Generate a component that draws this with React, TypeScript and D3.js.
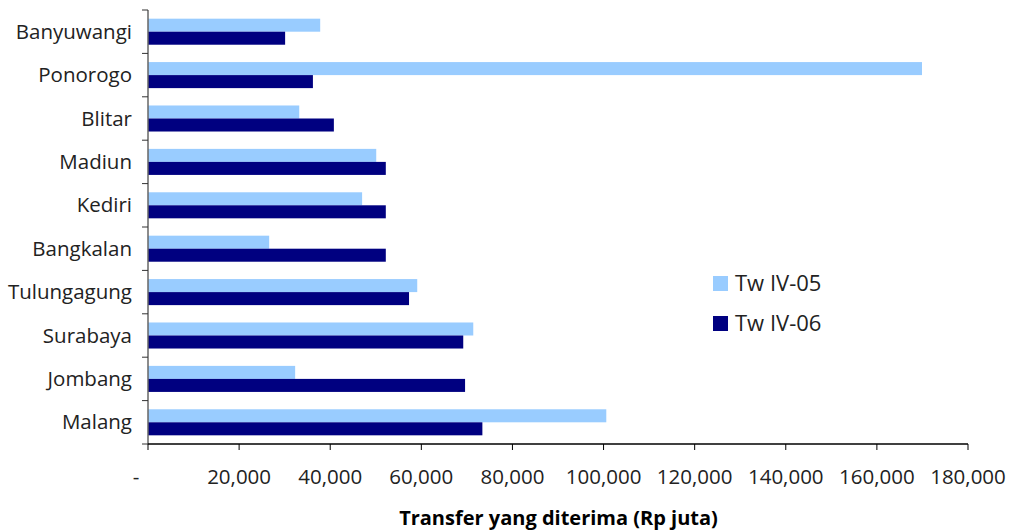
import React from "react";
import * as d3 from "d3";

const categories = ["Banyuwangi", "Ponorogo", "Blitar", "Madiun", "Kediri", "Bangkalan", "Tulungagung", "Surabaya", "Jombang", "Malang"];
const seriesNames = ["Tw IV-05", "Tw IV-06"];
const twIV05 = [37800, 169900, 33200, 50100, 47000, 26600, 59100, 71400, 32300, 100600];
const twIV06 = [30100, 36200, 40800, 52200, 52200, 52200, 57300, 69200, 69600, 73400];
const xTicks = [0, 20000, 40000, 60000, 80000, 100000, 120000, 140000, 160000, 180000];
const colors = ["#99CCFF", "#000080"];
const xTitle = "Transfer yang diterima (Rp juta)";

const W = 1016, H = 531;
const left = 148, right = 968, top = 10, bottom = 444;
const font = "'Open Sans', 'DejaVu Sans', sans-serif";

export default function App() {
  const x = d3.scaleLinear().domain([0, 180000]).range([left, right]);
  const y = d3.scaleBand<string>().domain(categories).range([top, bottom]).paddingInner(0.4).paddingOuter(0.2);
  const sub = d3.scaleBand<string>().domain(seriesNames).range([0, y.bandwidth()]);
  const step = y.step();
  const values = [twIV05, twIV06];
  const fmt = (v: number) => (v === 0 ? "-" : d3.format(",")(v));
  return (
    <svg width={W} height={H} style={{ position: "absolute", left: 0, top: 0, background: "#fff" }}>
      {values.map((vals, si) =>
        categories.map((c, i) => (
          <rect key={`${si}-${c}`} x={x(0)} y={(y(c) as number) + (sub(seriesNames[si]) as number)}
            width={x(vals[i]) - x(0)} height={sub.bandwidth()} fill={colors[si]} />
        ))
      )}
      {/* y axis */}
      <line x1={left} x2={left} y1={top} y2={bottom} stroke="#666" strokeWidth={1.5} />
      {d3.range(categories.length + 1).map((k) => (
        <line key={k} x1={left - 6} x2={left} y1={top + k * step} y2={top + k * step} stroke="#333" />
      ))}
      {categories.map((c) => (
        <text key={c} x={left - 16} y={(y(c) as number) + y.bandwidth() / 2} dy="0.35em" textAnchor="end"
          fontFamily={font} fontSize={20.5} fill="#222">{c}</text>
      ))}
      {/* x axis */}
      <line x1={left} x2={right} y1={bottom} y2={bottom} stroke="#000" strokeWidth={1.5} />
      {xTicks.map((t) => (
        <line key={t} x1={x(t)} x2={x(t)} y1={bottom} y2={bottom + 6} stroke="#000" />
      ))}
      {xTicks.map((t) => (
        <text key={t} x={t === 0 ? x(t) - 12 : x(t)} y={477} dy="0.35em" textAnchor="middle"
          fontFamily={font} fontSize={20.5} fill="#222">{fmt(t)}</text>
      ))}
      <text x={(397 + 720) / 2} y={518} dy="0.35em" textAnchor="middle" fontFamily={font} fontSize={20}
        fontWeight="bold" fill="#000">{xTitle}</text>
      {/* legend */}
      {seriesNames.map((s, i) => (
        <g key={s} transform={`translate(713, ${283 + i * 40})`}>
          <rect x={0} y={-7} width={15} height={15} fill={colors[i]} />
          <text x={22} y={0} dy="0.35em" fontFamily={font} fontSize={22} fill="#222">{s}</text>
        </g>
      ))}
    </svg>
  );
}
